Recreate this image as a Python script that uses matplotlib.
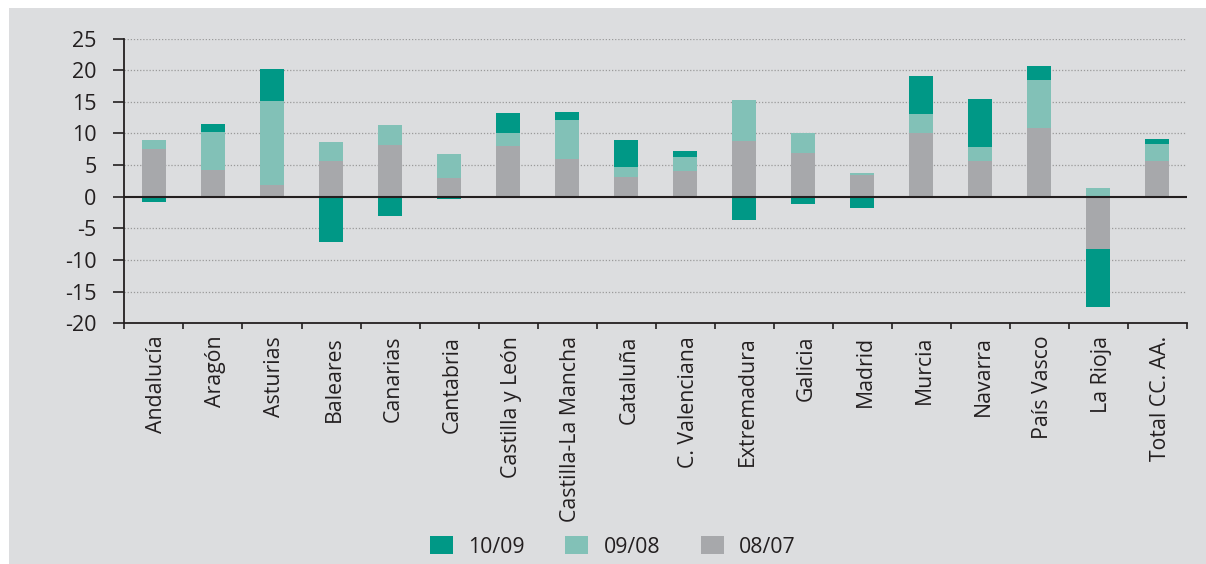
import numpy as np
import matplotlib
matplotlib.use("Agg")
import matplotlib.pyplot as plt
from matplotlib.patches import Rectangle
from matplotlib.transforms import ScaledTranslation

plt.rcParams['font.family'] = ['Open Sans', 'DejaVu Sans']
plt.rcParams['axes.unicode_minus'] = False

TXT = '#231f20'
BG = '#dcdddf'

regiones = ['Andalucía', 'Aragón', 'Asturias', 'Baleares', 'Canarias', 'Cantabria',
            'Castilla y León', 'Castilla-La Mancha', 'Cataluña', 'C. Valenciana',
            'Extremadura', 'Galicia', 'Madrid', 'Murcia', 'Navarra', 'País Vasco',
            'La Rioja', 'Total CC. AA.']

# variaciones por periodo
v08_07 = [7.5, 4.15, 1.85, 5.6, 8.25, 2.9, 7.95, 5.9, 3.05, 4.0,
          8.75, 6.9, 3.4, 10.0, 5.6, 10.8, -8.3, 5.6]
v09_08 = [1.4, 6.0, 13.2, 3.0, 3.15, 3.8, 2.05, 6.15, 1.6, 2.35,
          6.6, 3.1, 0.3, 3.15, 2.2, 7.7, 1.3, 2.7]
v10_09 = [-0.85, 1.4, 5.2, -7.2, -3.05, -0.4, 3.3, 1.4, 4.25, 0.8,
          -3.6, -1.15, -1.85, 6.0, 7.6, 2.1, -9.1, 0.8]

series = [('08/07', v08_07, '#a7a8ab'),
          ('09/08', v09_08, '#82c1b7'),
          ('10/09', v10_09, '#009886')]

fig = plt.figure(figsize=(12.06, 5.64), dpi=100)
fig.patches.append(Rectangle((9 / 1206, 0), 1, 1 - 7.5 / 564, transform=fig.transFigure,
                             facecolor=BG, edgecolor='none', zorder=-10))

ax = fig.add_axes([0.1032, 0.4268, 0.8808, 0.5049])
ax.set_facecolor('none')

x = np.arange(len(regiones))
pos = np.zeros(len(regiones))
neg = np.zeros(len(regiones))
handles = {}
for name, vals, col in series:
    vals = np.array(vals)
    bottom = np.where(vals >= 0, pos, neg)
    b = ax.bar(x, vals, width=0.41, bottom=bottom, color=col, zorder=2, label=name)
    handles[name] = b
    pos = pos + np.clip(vals, 0, None)
    neg = neg + np.clip(vals, None, 0)

ax.set_xlim(-0.5, len(regiones) - 0.5)
ax.set_ylim(-20, 25)
ax.set_yticks(np.arange(-20, 26, 5))
ax.set_yticklabels([str(v) for v in range(-20, 26, 5)])

# grid
for y in range(-15, 26, 5):
    if y != 0:
        ax.axhline(y, color='#9a9a9a', lw=0.9, ls=(0, (1, 1.5)), zorder=1)
ax.axhline(0, color=TXT, lw=1.5, zorder=3)

for s in ['top', 'right']:
    ax.spines[s].set_visible(False)
for s in ['left', 'bottom']:
    ax.spines[s].set_color(TXT)
    ax.spines[s].set_linewidth(1.3)

ax.tick_params(axis='y', length=8, width=1.2, color=TXT, pad=12,
               labelsize=15.5, labelcolor=TXT)
ax.set_xticks(x)
ax.set_xticklabels(regiones, rotation=90, fontsize=15.3, color=TXT)
ax.set_xticks(np.arange(-0.5, len(regiones), 1), minor=True)
ax.tick_params(axis='x', which='major', length=0, pad=9)
ax.tick_params(axis='x', which='minor', length=4.5, width=1.2, color=TXT)
shift = ScaledTranslation(3 / 100, 0, fig.dpi_scale_trans)
for lab in ax.get_xticklabels():
    lab.set_transform(lab.get_transform() + shift)

leg = fig.legend([handles['10/09'], handles['09/08'], handles['08/07']],
                 ['10/09', '09/08', '08/07'], loc='center',
                 bbox_to_anchor=(613 / 1206, 1 - 547 / 564), ncol=3, frameon=False,
                 fontsize=15.3, handlelength=1.09, handleheight=0.9,
                 handletextpad=0.72, columnspacing=1.9, labelcolor=TXT)

fig.savefig('out.png', dpi=100, facecolor='white')
